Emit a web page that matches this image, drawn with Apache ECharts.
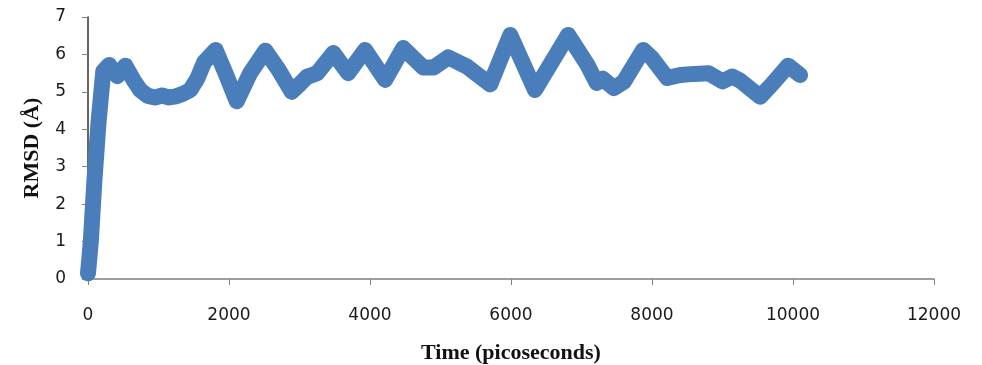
<!DOCTYPE html>
<html>
<head>
<meta charset="utf-8">
<script src="https://cdn.jsdelivr.net/npm/echarts@6/dist/echarts.min.js"></script>
<style>
html,body{margin:0;padding:0;background:#fff;}
#chart{width:982px;height:365px;}
</style>
</head>
<body>
<div id="chart"></div>
<script>
var timePs = [0, 40, 90, 150, 217, 300, 415, 530, 650, 740, 840, 950, 1050, 1150, 1250, 1350, 1450, 1550, 1650, 1810, 1950, 2110, 2300, 2515, 2700, 2890, 3000, 3105, 3250, 3480, 3690, 3930, 4215, 4470, 4755, 4900, 5110, 5380, 5705, 5990, 6340, 6810, 7075, 7215, 7300, 7460, 7600, 7875, 8000, 8215, 8400, 8600, 8800, 9000, 9140, 9250, 9535, 9700, 9930, 10100];
var rmsd   = [0.15, 1.0, 2.6, 4.2, 5.55, 5.72, 5.42, 5.7, 5.3, 5.05, 4.9, 4.85, 4.9, 4.85, 4.88, 4.95, 5.05, 5.35, 5.8, 6.12, 5.5, 4.75, 5.5, 6.1, 5.6, 5.0, 5.2, 5.4, 5.5, 6.04, 5.5, 6.12, 5.32, 6.17, 5.65, 5.65, 5.92, 5.67, 5.2, 6.52, 5.05, 6.52, 5.75, 5.24, 5.35, 5.1, 5.27, 6.12, 5.9, 5.37, 5.45, 5.48, 5.5, 5.28, 5.41, 5.3, 4.87, 5.2, 5.7, 5.45];
var xTicks = {min: 0, max: 12000, step: 2000};
var yTicks = {min: 0, max: 7, step: 1};

var seriesData = timePs.map(function (t, i) { return [t, rmsd[i]]; });

var chart = echarts.init(document.getElementById('chart'), null, {renderer: 'canvas'});
chart.setOption({
  animation: false,
  backgroundColor: '#ffffff',
  grid: {left: 88, right: 48, top: 17, bottom: 86, containLabel: false, outerBoundsMode: 'none'},
  xAxis: {
    type: 'value',
    min: xTicks.min, max: xTicks.max, interval: xTicks.step,
    name: 'Time (picoseconds)',
    nameLocation: 'middle',
    nameGap: 63,
    nameTextStyle: {fontFamily: 'Liberation Serif', fontWeight: 'bold', fontSize: 22, color: '#111'},
    axisLine: {show: true, onZero: false, lineStyle: {color: '#7f7f7f', width: 1.5}},
    axisTick: {show: true, length: 6, lineStyle: {color: '#7f7f7f'}},
    axisLabel: {margin: 28, fontFamily: 'DejaVu Sans', fontSize: 17, color: '#1a1a1a',
      formatter: function (v) { return String(v); }},
    splitLine: {show: false}
  },
  yAxis: {
    type: 'value',
    min: yTicks.min, max: yTicks.max, interval: yTicks.step,
    name: 'RMSD (Å)',
    nameLocation: 'middle',
    nameGap: 45,
    nameRotate: 90,
    nameTextStyle: {fontFamily: 'Liberation Serif', fontWeight: 'bold', fontSize: 22, color: '#111'},
    axisLine: {show: true, lineStyle: {color: '#333', width: 1.5}},
    axisTick: {show: true, length: 6, lineStyle: {color: '#7f7f7f'}},
    axisLabel: {margin: 22, fontFamily: 'DejaVu Sans', fontSize: 17, color: '#1a1a1a'},
    splitLine: {show: false}
  },
  series: [{
    type: 'line',
    data: seriesData,
    showSymbol: false,
    smooth: false,
    lineStyle: {color: '#4a7ebb', width: 16, cap: 'round', join: 'round'},
    z: 1
  }]
});
</script>
</body>
</html>
